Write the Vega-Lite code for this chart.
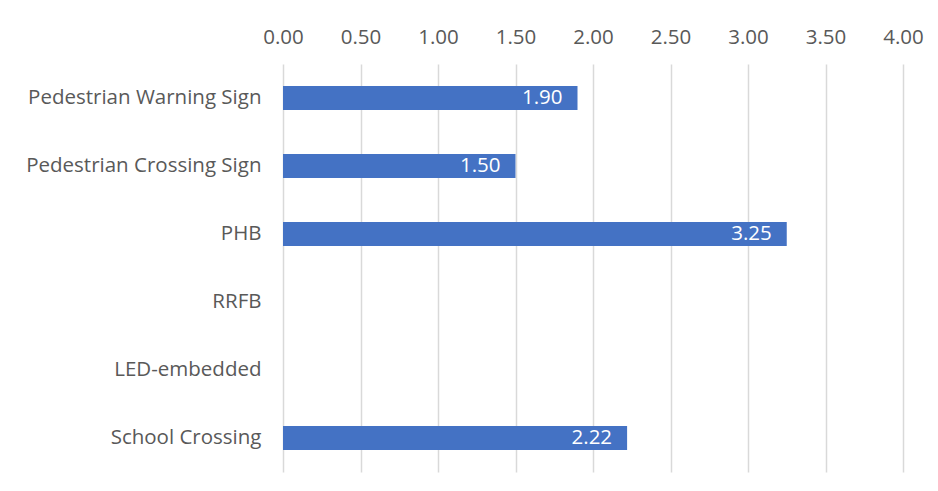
{
  "$schema": "https://vega.github.io/schema/vega-lite/v6.json",
  "autosize": "none",
  "width": 620,
  "height": 408,
  "padding": {"left": 283, "top": 64, "right": 35, "bottom": 19},
  "background": "white",
  "config": {"view": {"stroke": null}, "font": "Open Sans"},
  "data": {"values": [
    {"category": "Pedestrian Warning Sign", "value": 1.90},
    {"category": "Pedestrian Crossing Sign", "value": 1.50},
    {"category": "PHB", "value": 3.25},
    {"category": "RRFB", "value": null},
    {"category": "LED-embedded", "value": null},
    {"category": "School Crossing", "value": 2.22}
  ]},
  "encoding": {
    "y": {"field": "category", "type": "nominal", "sort": null,
      "scale": {"domain": ["Pedestrian Warning Sign", "Pedestrian Crossing Sign", "PHB", "RRFB", "LED-embedded", "School Crossing"],
        "paddingInner": 0.647, "paddingOuter": 0.3235},
      "axis": {"title": null, "domain": false, "ticks": false, "labelPadding": 22, "labelLimit": 0,
        "labelFontSize": 20.5, "labelColor": "#595959", "labelFont": "Open Sans"}},
    "x": {"field": "value", "type": "quantitative",
      "scale": {"domain": [0, 4], "nice": false, "zero": true},
      "axis": {"orient": "top", "title": null, "domain": false, "ticks": false,
        "values": [0, 0.5, 1, 1.5, 2, 2.5, 3, 3.5, 4], "format": ".2f",
        "labelFlush": false, "labelOverlap": false,
        "labelPadding": 17, "labelFontSize": 20.5, "labelColor": "#595959",
        "labelFont": "Open Sans", "gridColor": "#d9d9d9", "gridWidth": 1.5}}
  },
  "layer": [
    {"mark": {"type": "bar", "color": "#4472C4"}},
    {"mark": {"type": "text", "align": "right", "dx": -15, "color": "white", "fontSize": 20.5, "font": "Open Sans"},
     "encoding": {"text": {"field": "value", "type": "quantitative", "format": ".2f"}}}
  ]
}
